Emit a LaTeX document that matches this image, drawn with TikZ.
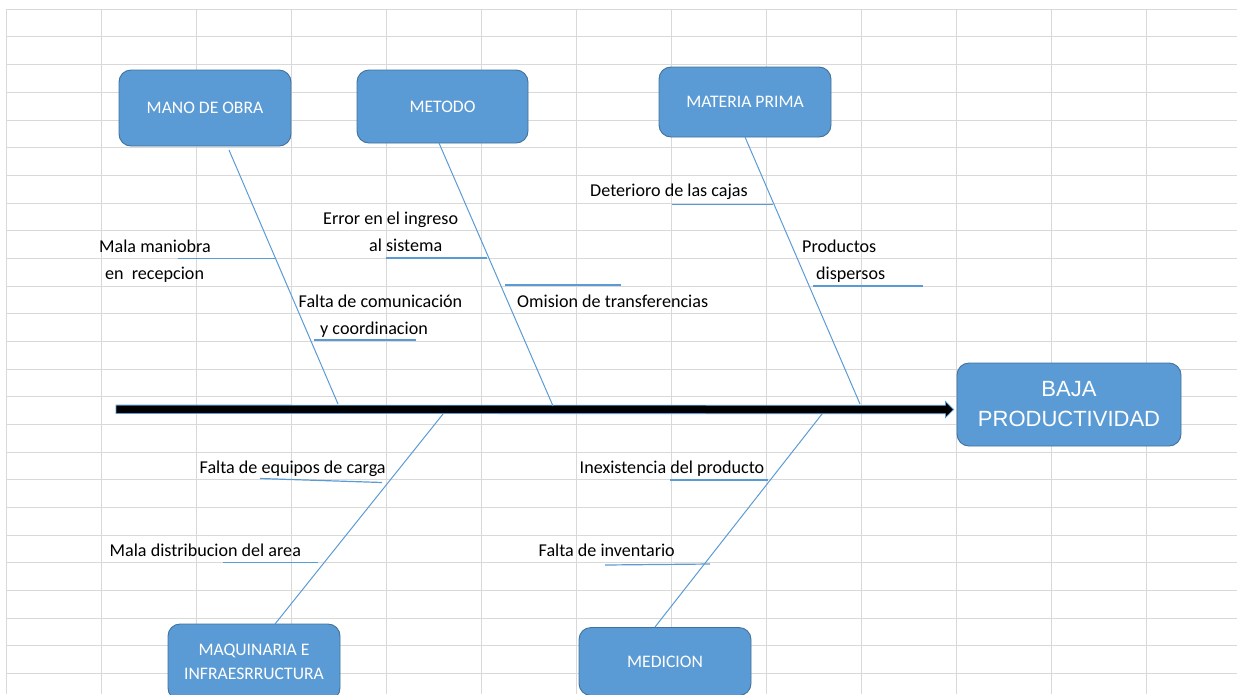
\documentclass[tikz,border=0pt]{standalone}
\usepackage{fontspec}
\setmainfont{Carlito}
\newfontfamily\arialfont{Liberation Sans}
\usetikzlibrary{calc}
\definecolor{cellline}{HTML}{D9D9D9}
\definecolor{boxblue}{HTML}{5B9BD5}
\definecolor{boxedge}{HTML}{41719C}
\definecolor{bonecol}{HTML}{5B9BD5}
\begin{document}
\begin{tikzpicture}[x=1pt,y=-1pt,
  gridline/.style={draw=cellline,line width=1pt},
  cause/.style={draw=boxedge,fill=boxblue,line width=0.9pt,rounded corners=12pt,
    inner sep=0pt,text=white,align=center,font=\fontsize{17.6}{24.5}\selectfont},
  effect/.style={draw=boxedge,fill=boxblue,line width=0.9pt,rounded corners=12pt,
    inner sep=0pt,text=white,align=center,font=\arialfont\fontsize{22}{30}\selectfont},
  bone/.style={draw=bonecol,line width=1pt},
  twig/.style={draw=bonecol,line width=1.2pt},
  lbl/.style={anchor=base west,inner sep=0pt,text=black,font=\fontsize{18.1}{20}\selectfont}]
\useasboundingbox (0,0) rectangle (1237,694);
\clip (0,0) rectangle (1237,694);

% spreadsheet cells
\foreach \i in {0,...,13}
  \draw[gridline] ({6.7+95*\i},9.3) -- ({6.7+95*\i},694);
\foreach \j in {0,...,25}
  \draw[gridline] (6.7,{9.3+27.68*\j}) -- (1237,{9.3+27.68*\j});

% category boxes
\node[cause,minimum width=172,minimum height=76] (mano) at (205,108) {MANO DE OBRA};
\node[cause,minimum width=171,minimum height=73] (metodo) at (442.5,106.5) {METODO};
\node[cause,minimum width=172,minimum height=70] (materia) at (745,102) {MATERIA PRIMA};
\node[cause,minimum width=172,minimum height=76] (maq) at (254,662) {MAQUINARIA E\\INFRAESRRUCTURA};
\node[cause,minimum width=172,minimum height=68] (medicion) at (665,661.5) {MEDICION};
\node[effect,minimum width=224,minimum height=83] (efecto) at (1069,404.5) {BAJA\\PRODUCTIVIDAD};

% spine
\coordinate (tail) at (116,409.3);
\coordinate (tip) at ($(efecto.west)+(-3,5)$);
\filldraw[draw=bonecol,fill=black,line width=0.8pt]
  ($(tail)+(0,-4.2)$) -- ($(tip)+(-8,-4.2)$) -- ($(tip)+(-8,-8)$) -- (tip)
  -- ($(tip)+(-8,8)$) -- ($(tip)+(-8,4.2)$) -- ($(tail)+(0,4.2)$) -- cycle;

% main bones
\coordinate (b1) at (229,150);   \coordinate (s1) at (338,404);
\coordinate (b2) at (439,143);   \coordinate (s2) at (553,406);
\coordinate (b3) at (745,137);   \coordinate (s3) at (860,404);
\coordinate (b4) at (275,624);   \coordinate (s4) at (443,414);
\coordinate (b5) at (655,627);   \coordinate (s5) at (822,414);
\draw[bone] (b1) -- (s1);
\draw[bone] (b2) -- (s2);
\draw[bone] (b3) -- (s3);
\draw[bone] (b4) -- (s4);
\draw[bone] (b5) -- (s5);

% sub-causes
\coordinate (t1a) at (178,258.7); \coordinate (t1b) at (275,258.7);
\coordinate (t2a) at (386,258);   \coordinate (t2b) at (487,258);
\coordinate (t3a) at (314,340);   \coordinate (t3b) at (416,340);
\coordinate (t4a) at (505,285);   \coordinate (t4b) at (621,285);
\coordinate (t5a) at (672,204.3); \coordinate (t5b) at (773,204.3);
\coordinate (t6a) at (813,286);   \coordinate (t6b) at (923,286);
\coordinate (t7a) at (260,478.5); \coordinate (t7b) at (382,482.5);
\coordinate (t8a) at (223,562.7); \coordinate (t8b) at (318,562.7);
\coordinate (t9a) at (670,480);   \coordinate (t9b) at (768,480);
\coordinate (t10a) at (605,565);  \coordinate (t10b) at (710,564);
\foreach \k in {1,...,10} \draw[twig] (t\k a) -- (t\k b);

% labels
\node[lbl] (l1) at (99,252) {Mala maniobra};
\node[lbl] (l1b) at (105,279) {en\ \ recepcion};
\node[lbl] (l2) at (323,224.5) {Error en el ingreso};
\node[lbl] (l2b) at (369,251) {al sistema};
\node[lbl] (l3) at (298.5,307) {Falta de comunicación};
\node[lbl] (l3b) at (320,334.5) {y coordinacion};
\node[lbl] (l4) at (517,307) {Omision de transferencias};
\node[lbl] (l5) at (590,196) {Deterioro de las cajas};
\node[lbl] (l6) at (802,252) {Productos};
\node[lbl] (l6b) at (816,279.5) {dispersos};
\node[lbl] (l7) at (199.5,473.5) {Falta de equipos de carga};
\node[lbl] (l8) at (109.5,556) {Mala distribucion del area};
\node[lbl] (l9) at (579.5,473.5) {Inexistencia del producto};
\node[lbl] (l10) at (538.5,556) {Falta de inventario};
\end{tikzpicture}
\end{document}
